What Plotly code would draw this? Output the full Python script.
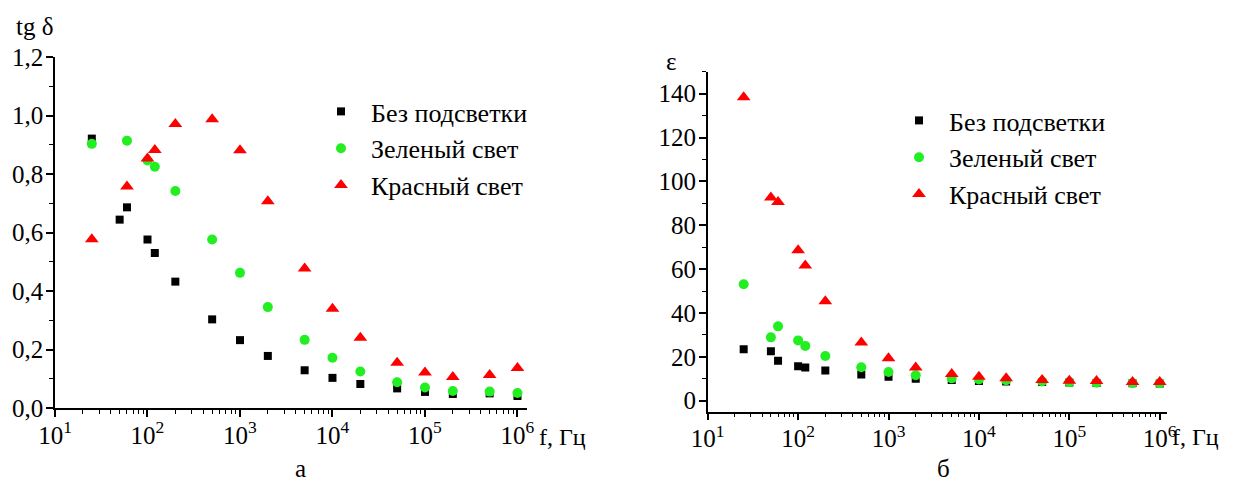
import plotly.graph_objects as go

# frequencies, Hz
freq_a_black = [25, 50, 60, 100, 120, 200, 500, 1000, 2000, 5000, 1e4, 2e4, 5e4, 1e5, 2e5, 5e5, 1e6]
tg_black = [0.921, 0.644, 0.686, 0.576, 0.530, 0.432, 0.303, 0.232, 0.178, 0.129, 0.103, 0.082, 0.067, 0.055, 0.048, 0.050, 0.041]

freq_a_green = [25, 60, 100, 120, 200, 500, 1000, 2000, 5000, 1e4, 2e4, 5e4, 1e5, 2e5, 5e5, 1e6]
tg_green = [0.903, 0.914, 0.846, 0.825, 0.742, 0.576, 0.462, 0.345, 0.233, 0.172, 0.125, 0.088, 0.070, 0.058, 0.056, 0.051]

freq_a_red = [25, 60, 100, 120, 200, 500, 1000, 2000, 5000, 1e4, 2e4, 5e4, 1e5, 2e5, 5e5, 1e6]
tg_red = [0.577, 0.757, 0.853, 0.882, 0.971, 0.987, 0.881, 0.707, 0.477, 0.339, 0.240, 0.155, 0.121, 0.106, 0.113, 0.137]

freq_b = [25, 50, 60, 100, 120, 200, 500, 1000, 2000, 5000, 1e4, 2e4, 5e4, 1e5, 2e5, 5e5, 1e6]
eps_black = [23.5, 22.6, 18.2, 15.7, 15.2, 13.8, 12.0, 10.9, 10.0, 9.5, 9.0, 8.8, 8.5, 8.3, 8.1, 8.0, 7.9]
eps_green = [53.1, 28.9, 33.9, 27.5, 25.0, 20.4, 15.3, 13.1, 11.6, 10.2, 9.7, 9.3, 8.8, 8.5, 8.2, 8.1, 8.0]
eps_red = [138.4, 92.6, 90.6, 68.6, 61.6, 45.3, 26.6, 19.4, 15.2, 12.2, 10.9, 10.2, 9.4, 9.1, 9.0, 8.5, 8.5]

series_names = ["Без подсветки", "Зеленый свет", "Красный свет"]
x_exponents = [1, 2, 3, 4, 5, 6]
y_ticks_a = [0.0, 0.2, 0.4, 0.6, 0.8, 1.0, 1.2]
y_ticks_b = [0, 20, 40, 60, 80, 100, 120, 140]

x_tickvals = [10 ** e for e in x_exponents]
x_ticktext = ["10<sup>%d</sup>" % e for e in x_exponents]
x_minor = [m * 10 ** e for e in x_exponents[:-1] for m in range(2, 10)]

FONT = "Liberation Serif"
OFF = 8                      # default page body margin
FW, FH = 1233 - OFF, 484 - OFF


def fx(px):
    return (px - OFF) / FW


def fy(py):
    return 1 - (py - OFF) / FH


styles = [dict(symbol="square", size=8, color="black"),
          dict(symbol="circle", size=10, color="#22ee22"),
          dict(symbol="triangle-up", size=12, color="red")]

fig = go.Figure()
for name, xs, ys, st in zip(series_names, [freq_a_black, freq_a_green, freq_a_red],
                            [tg_black, tg_green, tg_red], styles):
    fig.add_trace(go.Scatter(x=xs, y=ys, mode="markers", name=name, marker=st,
                             xaxis="x", yaxis="y", legend="legend"))
for name, ys, st in zip(series_names, [eps_black, eps_green, eps_red], styles):
    fig.add_trace(go.Scatter(x=freq_b, y=ys, mode="markers", name=name, marker=st,
                             xaxis="x2", yaxis="y2", legend="legend2"))

axis_common = dict(showline=True, linecolor="black", linewidth=1.5, ticks="outside",
                   ticklen=7, tickwidth=1.5, tickcolor="black", showgrid=False,
                   zeroline=False, mirror=False, automargin=False,
                   tickfont=dict(family=FONT, size=25, color="black"))
minor_common = dict(ticks="outside", ticklen=4, tickwidth=1.2, tickcolor="black", showgrid=False)

fig.update_layout(
    template="none",
    width=FW, height=FH, margin=dict(l=0, r=0, t=0, b=0),
    paper_bgcolor="white", plot_bgcolor="white",
    separators=", ",
    font=dict(family=FONT, size=25, color="black"),
    xaxis=dict(domain=[fx(55), fx(527)], type="log", range=[1, 6.103],
               tickmode="array", tickvals=x_tickvals, ticktext=x_ticktext, anchor="y",
               ticklabelstandoff=-3,
               minor=dict(tickmode="array", tickvals=x_minor, **minor_common), **axis_common),
    yaxis=dict(domain=[fy(408), fy(57)], range=[0, 1.2], tickvals=y_ticks_a,
               tickformat=".1f", anchor="x", ticklabelstandoff=-2,
               minor=dict(dtick=0.1, **minor_common), **axis_common),
    xaxis2=dict(domain=[fx(707.7), fx(1166.7)], type="log", range=[1, 6.077],
                tickmode="array", tickvals=x_tickvals, ticktext=x_ticktext, anchor="y2",
                ticklabelstandoff=-3,
                minor=dict(tickmode="array", tickvals=x_minor, **minor_common), **axis_common),
    yaxis2=dict(domain=[fy(411.7), fy(71.7)], range=[-5, 150], tickvals=y_ticks_b,
                anchor="x2", ticklabelstandoff=-2,
                minor=dict(tick0=0, dtick=10, **minor_common), **axis_common),
    legend=dict(x=fx(311), y=fy(88), xanchor="left", yanchor="top",
                bgcolor="rgba(0,0,0,0)", font=dict(family=FONT, size=26), itemwidth=50),
    legend2=dict(x=fx(889), y=fy(97), xanchor="left", yanchor="top",
                 bgcolor="rgba(0,0,0,0)", font=dict(family=FONT, size=26), itemwidth=50),
)

ann = dict(xref="paper", yref="paper", showarrow=False)
fig.add_annotation(text="tg δ", x=fx(34), y=fy(27), xanchor="center", yanchor="middle",
                   font=dict(family=FONT, size=25, color="black"), **ann)
fig.add_annotation(text="ε", x=fx(672), y=fy(61), xanchor="center", yanchor="middle",
                   font=dict(family=FONT, size=25, color="black"), **ann)
fig.add_annotation(text="f, Гц", x=fx(537), y=fy(437), xanchor="left", yanchor="middle",
                   font=dict(family=FONT, size=24, color="black"), **ann)
fig.add_annotation(text="f, Гц", x=fx(1221), y=fy(437), xanchor="right", yanchor="middle",
                   font=dict(family=FONT, size=24, color="black"), **ann)
fig.add_annotation(text="а", x=fx(300), y=fy(468), xanchor="center", yanchor="middle",
                   font=dict(family=FONT, size=25, color="black"), **ann)
fig.add_annotation(text="б", x=fx(944), y=fy(468), xanchor="center", yanchor="middle",
                   font=dict(family=FONT, size=25, color="black"), **ann)

fig.write_html("out.html")
